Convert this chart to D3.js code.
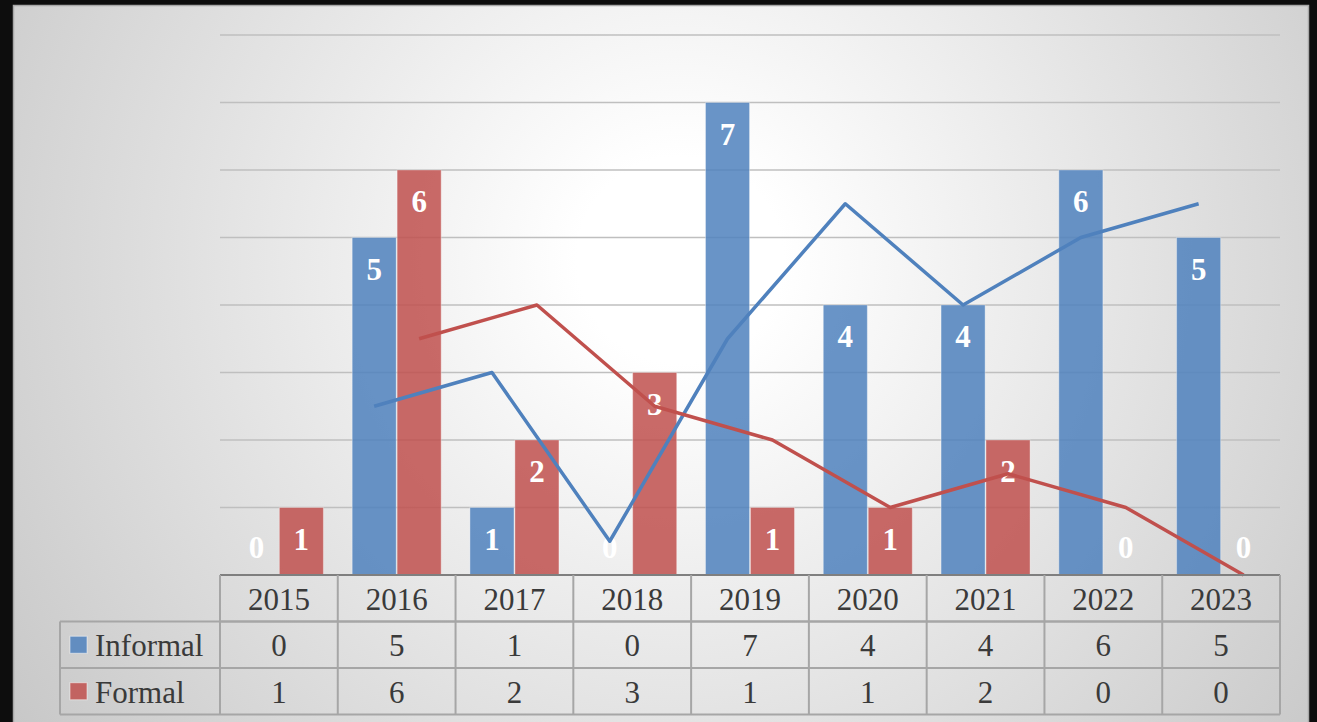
<!DOCTYPE html>
<html>
<head>
<meta charset="utf-8">
<script src="https://cdn.jsdelivr.net/npm/d3@7"></script>
<style>
  html, body { margin: 0; padding: 0; background: #0d0d0d; overflow: hidden; }
  svg { display: block; }
</style>
</head>
<body>
<div id="container"></div>
<script>
/* DATA */
const years = ["2015", "2016", "2017", "2018", "2019", "2020", "2021", "2022", "2023"];
const series = ["Informal", "Formal"];
const informal = [0, 5, 1, 0, 7, 4, 4, 6, 5];
const formal = [1, 6, 2, 3, 1, 1, 2, 0, 0];
// 2-period moving average trendlines (none for 2015)
const informalTrend = [null, 2.5, 3, 0.5, 3.5, 5.5, 4, 5, 5.5];
const formalTrend = [null, 3.5, 4, 2.5, 2, 1, 1.5, 1, 0];
const yTicks = [0, 1, 2, 3, 4, 5, 6, 7, 8];

/* CONSTANTS */
const width = 1317, height = 722;
const plot = { left: 220, right: 1280, top: 35, bottom: 575 };
const rowH = 46.5;
const tableLeft = 60;
const colors = { Informal: "#4F81BD", Formal: "#C0504D" };
const serif = "'Liberation Serif', 'DejaVu Serif', serif";

const svg = d3.select("#container").append("svg")
  .attr("width", width)
  .attr("height", height);

/* background panel with radial gradient */
const defs = svg.append("defs");
const grad = defs.append("radialGradient")
  .attr("id", "bg")
  .attr("gradientUnits", "userSpaceOnUse")
  .attr("cx", 680).attr("cy", 260).attr("r", 860);
grad.append("stop").attr("offset", 0.12).attr("stop-color", "#ffffff");
grad.append("stop").attr("offset", 1).attr("stop-color", "#c4c4c4");

svg.append("rect")
  .attr("x", 13.5).attr("y", 5.5)
  .attr("width", 1295).attr("height", 730)
  .attr("fill", "url(#bg)")
  .attr("stroke", "#a8a8a8")
  .attr("stroke-width", 1.5);

/* SCALES */
const x = d3.scaleBand()
  .domain(years)
  .range([plot.left, plot.right]);

const xInner = d3.scaleBand()
  .domain(series)
  .range([0, x.bandwidth()])
  .paddingInner(0.02)
  .paddingOuter(0.32);

const y = d3.scaleLinear()
  .domain([0, 8])
  .range([plot.bottom, plot.top]);

/* gridlines */
svg.append("g")
  .selectAll("line")
  .data(yTicks.filter(d => d > 0))
  .join("line")
  .attr("x1", plot.left).attr("x2", plot.right)
  .attr("y1", d => y(d)).attr("y2", d => y(d))
  .attr("stroke", "#bfbfbf")
  .attr("stroke-width", 1.5);

/* bars */
const rows = years.map((yr, i) => ({ year: yr, Informal: informal[i], Formal: formal[i] }));

const groups = svg.append("g")
  .selectAll("g")
  .data(rows)
  .join("g")
  .attr("transform", d => `translate(${x(d.year)},0)`);

groups.selectAll("rect")
  .data(d => series.map(s => ({ s, v: d[s] })))
  .join("rect")
  .attr("x", d => xInner(d.s))
  .attr("width", xInner.bandwidth())
  .attr("y", d => y(d.v))
  .attr("height", d => y(0) - y(d.v))
  .attr("fill", d => colors[d.s])
  .attr("fill-opacity", 0.85)
  .attr("stroke", "#ffffff")
  .attr("stroke-opacity", 0.35)
  .attr("stroke-width", 1);

/* trendlines */
const trendLine = (s, vals) => {
  const pts = years.map((yr, i) => ({ yr, v: vals[i] })).filter(d => d.v !== null);
  svg.append("path")
    .datum(pts)
    .attr("fill", "none")
    .attr("stroke", colors[s])
    .attr("stroke-width", 3.5)
    .attr("stroke-linejoin", "round")
    .attr("d", d3.line()
      .x(d => x(d.yr) + xInner(s) + xInner.bandwidth() / 2)
      .y(d => y(d.v)));
};
trendLine("Informal", informalTrend);
trendLine("Formal", formalTrend);

/* data labels, inside end */
groups.selectAll("text")
  .data(d => series.map(s => ({ s, v: d[s] })))
  .join("text")
  .attr("x", d => xInner(d.s) + xInner.bandwidth() / 2)
  .attr("y", d => d.v === 0 ? y(0) - 17 : y(d.v) + 42)
  .attr("text-anchor", "middle")
  .attr("fill", "#ffffff")
  .style("font-family", serif)
  .style("font-weight", "bold")
  .style("font-size", "31px")
  .text(d => d.v);

/* axis line */
svg.append("line")
  .attr("x1", plot.left).attr("x2", plot.right)
  .attr("y1", plot.bottom).attr("y2", plot.bottom)
  .attr("stroke", "#7f7f7f")
  .attr("stroke-width", 2);

/* DATA TABLE */
const table = svg.append("g");
const lineColor = "#a6a6a6";
const r0 = plot.bottom, r1 = r0 + rowH, r2 = r1 + rowH, r3 = r2 + rowH;

// horizontal lines
[[plot.left, r1], [tableLeft, r1], [tableLeft, r2], [tableLeft, r3]].forEach(([x0, yy]) => {
  table.append("line")
    .attr("x1", x0).attr("x2", plot.right)
    .attr("y1", yy).attr("y2", yy)
    .attr("stroke", lineColor).attr("stroke-width", 2);
});
// vertical lines
table.selectAll(".vcol")
  .data(years.map(d => x(d)).concat([plot.right]))
  .join("line")
  .attr("class", "vcol")
  .attr("x1", d => d).attr("x2", d => d)
  .attr("y1", r0).attr("y2", r3)
  .attr("stroke", lineColor).attr("stroke-width", 2);
table.append("line")
  .attr("x1", tableLeft).attr("x2", tableLeft)
  .attr("y1", r1).attr("y2", r3)
  .attr("stroke", lineColor).attr("stroke-width", 2);

const cellText = (sel) => sel
  .attr("text-anchor", "middle")
  .attr("dominant-baseline", "central")
  .attr("fill", "#3a3a3a")
  .style("font-family", serif)
  .style("font-size", "31px");

table.selectAll(".yr")
  .data(years)
  .join("text")
  .attr("class", "yr")
  .attr("x", d => x(d) + x.bandwidth() / 2)
  .attr("y", (r0 + r1) / 2 + 1)
  .call(cellText)
  .text(d => d);

[[informal, r1, "Informal"], [formal, r2, "Formal"]].forEach(([vals, top, s]) => {
  table.append("g").selectAll("text")
    .data(vals)
    .join("text")
    .attr("x", (d, i) => x(years[i]) + x.bandwidth() / 2)
    .attr("y", top + rowH / 2 + 1)
    .call(cellText)
    .text(d => d);

  // legend key + name
  table.append("rect")
    .attr("x", 70).attr("y", top + rowH / 2 - 8.5)
    .attr("width", 17).attr("height", 17)
    .attr("fill", colors[s]).attr("fill-opacity", 0.85)
    .attr("stroke", "#ffffff").attr("stroke-opacity", 0.5);
  table.append("text")
    .attr("x", 95)
    .attr("y", top + rowH / 2 + 1)
    .attr("dominant-baseline", "central")
    .attr("fill", "#3a3a3a")
    .style("font-family", serif)
    .style("font-size", "31px")
    .text(s);
});
</script>
</body>
</html>
